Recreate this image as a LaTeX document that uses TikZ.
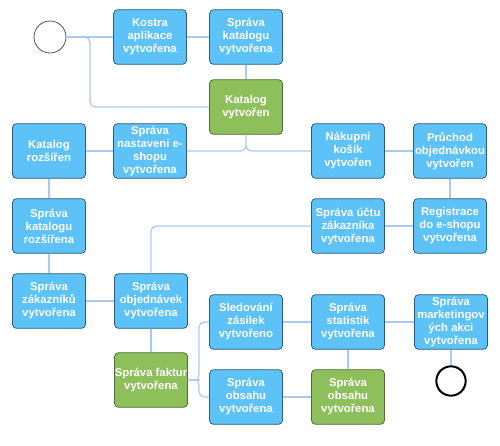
\documentclass[tikz,border=0pt]{standalone}
\usepackage{fontspec}
\setmainfont{Liberation Sans}
\definecolor{msBlue}{HTML}{5CC2F7}
\definecolor{msBlueEdge}{HTML}{2F5C7C}
\definecolor{msGreen}{HTML}{8DC05A}
\definecolor{msGreenEdge}{HTML}{4F6B3A}
\definecolor{msLink}{HTML}{A9C9F0}
\definecolor{msRing}{HTML}{555555}
\usetikzlibrary{positioning}

\begin{document}
\begin{tikzpicture}[
  x=0.75pt,y=-0.75pt,
  font=\fontsize{8.5}{9.75}\selectfont\bfseries,
  ms/.style={draw=msBlueEdge,line width=0.6pt,rounded corners=3pt,fill=msBlue,
             text=white,align=center,inner sep=0pt,
             minimum width=54.75pt,minimum height=41pt},
  msdone/.style={ms,draw=msGreenEdge,fill=msGreen},
  link/.style={draw=msLink,line width=0.9pt,rounded corners=4pt},
  ring/.style={circle,draw=msRing,line width=0.6pt,fill=white,minimum size=24pt,inner sep=0pt}
]
\useasboundingbox (0,0) rectangle (500,446);
% start and end
\node[ring] (start) at (50,37) {};
\node[ring,draw=black,line width=1.5pt,minimum size=22pt] (konec) at (451,381) {};
% first row
\node[ms] (kos) at (150,37) {Kostra\\aplikace\\vytvořena};
\node[ms] (skv) at (246,37) {Správa\\katalogu\\vytvořena};
\node[msdone] (kv) at (246,107) {Katalog\\vytvořen};
% second row
\node[ms] (kr) at (49,151) {Katalog\\rozšířen};
\node[ms] (sn) at (150,151) {Správa\\nastaveni e-\\shopu\\vytvořena};
\node[ms] (nk) at (348,151) {Nákupní\\košík\\vytvořen};
\node[ms] (po) at (450,151) {Průchod\\objednávkou\\vytvořen};
% third row
\node[ms] (skr) at (49,226) {Správa\\katalogu\\rozšířena};
\node[ms] (su) at (348,226) {Správa účtu\\zákazníka\\vytvořena};
\node[ms] (reg) at (450,226) {Registrace\\do e-shopu\\vytvořena};
% fourth row
\node[ms] (sz) at (49,301) {Správa\\zákazníků\\vytvořena};
\node[ms] (sob) at (151,301) {Správa\\objednávek\\vytvořena};
\node[ms] (sl) at (246,322) {Sledování\\zásilek\\vytvořeno};
\node[ms] (sst) at (348,322) {Správa\\statistik\\vytvořena};
\node[ms] (sma) at (451,322) {Správa\\marketingov\\ých akci\\vytvořena};
% bottom row
\node[msdone] (sf) at (151,380) {Správa faktur\\vytvořena};
\node[ms] (sobs) at (246,397) {Správa\\obsahu\\vytvořena};
\node[msdone] (sobg) at (348,397) {Správa\\obsahu\\vytvořena};
% links
\draw[link] (start) -- (kos);
\draw[link] (start.east) -- (90,37) -- (90,107) -- (kv.west);
\draw[link] (kos) -- (skv);
\draw[link] (skv) -- (kv);
\draw[link,rounded corners=0pt] (kv.south) -- (246,145) to[out=-90,in=0] (240,151) -- (sn.east);
\draw[link,rounded corners=0pt] (246,145) to[out=-90,in=180] (252,151) -- (nk.west);
\draw[link] (kr) -- (sn);
\draw[link] (nk) -- (po);
\draw[link] (po) -- (reg);
\draw[link] (reg) -- (su);
\draw[link] (su.west) -| (sob.north);
\draw[link] (kr) -- (skr);
\draw[link] (skr) -- (sz);
\draw[link] (sz) -- (sob);
\draw[link] (sob) -- (sf);
\draw[link] (sf.east) -- (193,380) to[out=0,in=90,rounded corners=0pt] (199,386) -- (199,397) -- (sobs.west);
\draw[link] (sf.east) -- (193,380) to[out=0,in=-90,rounded corners=0pt] (199,374) -- (199,322) -- (sl.west);
\draw[link] (sl) -- (sst);
\draw[link] (sst) -- (sma);
\draw[link] (sst) -- (sobg);
\draw[link] (sobs) -- (sobg);
\draw[link] (sma) -- (konec);
\end{tikzpicture}
\end{document}
